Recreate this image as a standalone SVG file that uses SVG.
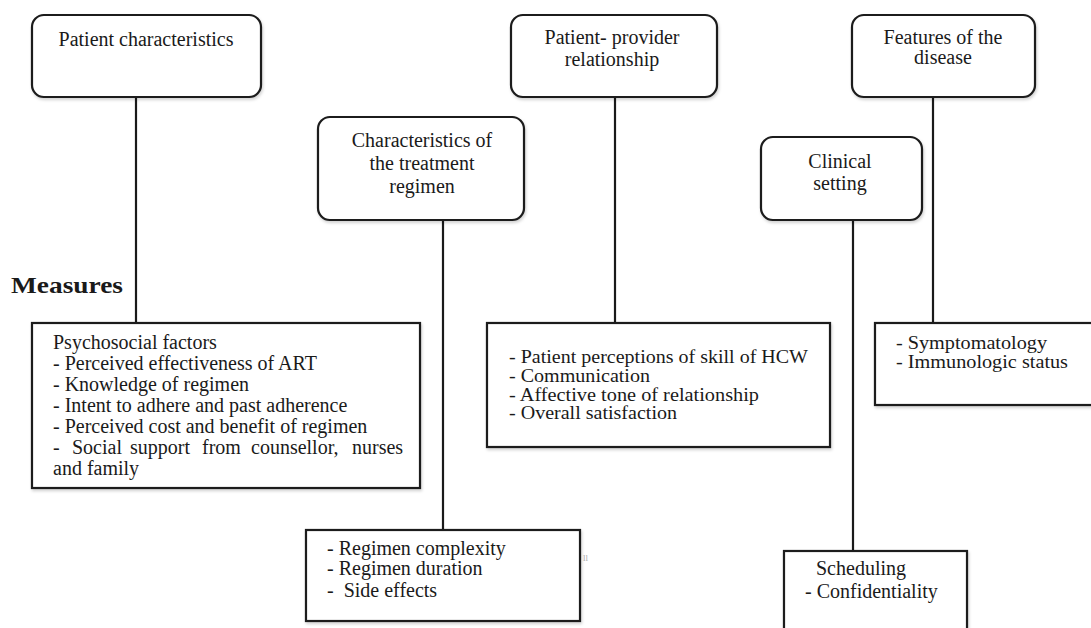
<svg xmlns="http://www.w3.org/2000/svg" width="1091" height="628" viewBox="0 0 1091 628">
<style>
.box{fill:#fff;stroke:#1a1a1a;stroke-width:2.2;filter:url(#sh)}
.ln{stroke:#1a1a1a;stroke-width:2.2;fill:none}
text{font-family:"Liberation Serif","Times New Roman",serif;fill:#1a1a1a;font-size:20px}
.c{text-anchor:middle}
.sm{font-size:18px}
</style>
<defs>
<filter id="sh" x="-5%" y="-5%" width="110%" height="115%">
<feDropShadow dx="1" dy="2" stdDeviation="1.5" flood-color="#000" flood-opacity="0.18"/>
</filter>
</defs>
<rect width="1091" height="628" fill="#fff"/>
<g id="connectors">
<line class="ln" x1="136" y1="97" x2="136" y2="323"/>
<line class="ln" x1="443" y1="220" x2="443" y2="530"/>
<line class="ln" x1="615" y1="97" x2="615" y2="323"/>
<line class="ln" x1="853" y1="220" x2="853" y2="551"/>
<line class="ln" x1="933" y1="97" x2="933" y2="323"/>
</g>
<g id="patient-characteristics">
<rect class="box" x="32" y="15" width="229" height="82" rx="12"/>
<text class="c" x="146" y="46">Patient characteristics</text>
</g>
<g id="treatment-regimen">
<rect class="box" x="318" y="117" width="206" height="103" rx="12"/>
<text class="c" x="422" y="147">Characteristics of</text>
<text class="c" x="422" y="170">the treatment</text>
<text class="c" x="422" y="193">regimen</text>
</g>
<g id="patient-provider">
<rect class="box" x="511" y="15" width="206" height="82" rx="12"/>
<text class="c" x="612" y="44">Patient- provider</text>
<text class="c" x="612" y="66">relationship</text>
</g>
<g id="features-disease">
<rect class="box" x="852" y="15" width="183" height="82" rx="12"/>
<text class="c" x="943" y="44">Features of the</text>
<text class="c" x="943" y="64">disease</text>
</g>
<g id="clinical-setting">
<rect class="box" x="761" y="137" width="161" height="83" rx="12"/>
<text class="c" x="840" y="168">Clinical</text>
<text class="c" x="840" y="190">setting</text>
</g>
<g id="measures-label">
<text x="11" y="293" font-weight="bold" style="font-size:23px" textLength="112" lengthAdjust="spacingAndGlyphs">Measures</text>
</g>
<g id="psychosocial">
<rect class="box" x="32" y="323" width="388" height="165"/>
<text x="53" y="349">Psychosocial factors</text>
<text x="53" y="370">- Perceived effectiveness of ART</text>
<text x="53" y="391">- Knowledge of regimen</text>
<text x="53" y="412">- Intent to adhere and past adherence</text>
<text x="53" y="433">- Perceived cost and benefit of regimen</text>
<text y="454"><tspan x="53">-</tspan><tspan x="72">Social</tspan><tspan x="130">support</tspan><tspan x="202">from</tspan><tspan x="251">counsellor,</tspan><tspan x="352">nurses</tspan></text>
<text x="53" y="475">and family</text>
</g>
<g id="provider-measures">
<rect class="box" x="487" y="323" width="343" height="124"/>
<text class="sm" x="509" y="363" textLength="299" lengthAdjust="spacingAndGlyphs">- Patient perceptions of skill of HCW</text>
<text class="sm" x="509" y="382" textLength="141" lengthAdjust="spacingAndGlyphs">- Communication</text>
<text class="sm" x="509" y="401" textLength="250" lengthAdjust="spacingAndGlyphs">- Affective tone of relationship</text>
<text class="sm" x="509" y="419" textLength="168" lengthAdjust="spacingAndGlyphs">- Overall satisfaction</text>
</g>
<g id="disease-measures">
<rect class="box" x="875" y="323" width="222" height="82"/>
<text class="sm" x="896" y="349" textLength="151" lengthAdjust="spacingAndGlyphs">- Symptomatology</text>
<text class="sm" x="896" y="368" textLength="172" lengthAdjust="spacingAndGlyphs">- Immunologic status</text>
</g>
<g id="regimen-measures">
<rect class="box" x="306" y="530" width="274" height="91"/>
<text x="327" y="555">- Regimen complexity</text>
<text x="327" y="575">- Regimen duration</text>
<text x="327" y="597" xml:space="preserve">-  Side effects</text>
<text x="583" y="561" style="font-size:9px;fill:#aaa">ll</text>
</g>
<g id="clinical-measures">
<rect class="box" x="784" y="551" width="183" height="90"/>
<text x="816" y="575">Scheduling</text>
<text x="805" y="598">- Confidentiality</text>
</g>
</svg>
